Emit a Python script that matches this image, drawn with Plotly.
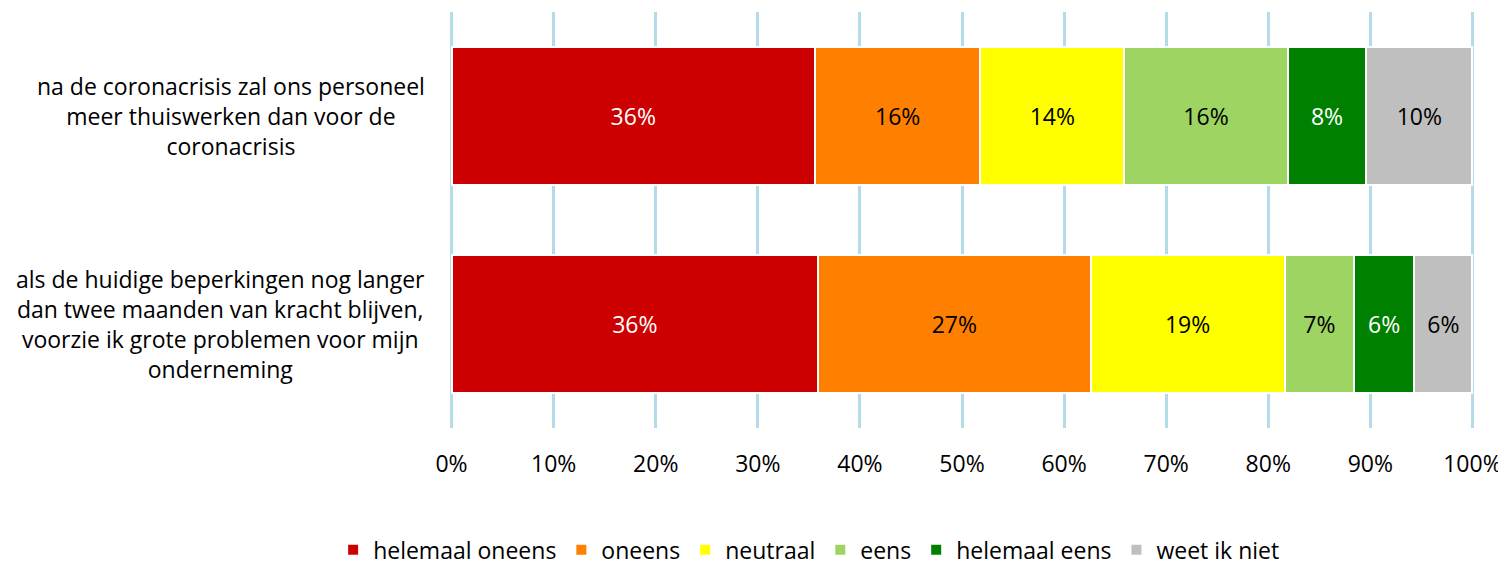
import plotly.graph_objects as go

categories = [
    "na de coronacrisis zal ons personeel<br>meer thuiswerken dan voor de<br>coronacrisis",
    "als de huidige beperkingen nog langer<br>dan twee maanden van kracht blijven,<br>voorzie ik grote problemen voor mijn<br>onderneming",
]
series_names = ["helemaal oneens", "oneens", "neutraal", "eens", "helemaal eens", "weet ik niet"]
values = {
    "helemaal oneens": [35.6, 35.9],
    "oneens": [16.2, 26.7],
    "neutraal": [14.1, 19.0],
    "eens": [16.0, 6.8],
    "helemaal eens": [7.7, 5.9],
    "weet ik niet": [10.4, 5.7],
}
colors = ["#CC0000", "#FF8000", "#FFFF00", "#9DD462", "#008000", "#BFBFBF"]
text_colors = ["white", "black", "black", "black", "white", "black"]
tick_vals = [0, 10, 20, 30, 40, 50, 60, 70, 80, 90, 100]
tick_text = [f"{v}%" for v in tick_vals]

FONT = "Open Sans"
FS = 23
fig = go.Figure()
for name, col, tc in zip(series_names, colors, text_colors):
    fig.add_trace(go.Bar(
        y=categories, x=values[name], name=name, orientation="h",
        marker=dict(color=col, line=dict(color="white", width=2)),
        width=0.665,
        texttemplate="%{x:.0f}%", textposition="inside", insidetextanchor="middle",
        textfont=dict(color=tc, size=FS, family=FONT),
        textangle=0,
    ))

for cat in categories:
    fig.add_annotation(x=0, xref="paper", xanchor="right", xshift=-22,
                       y=cat, yref="y", text=cat, showarrow=False, align="center",
                       font=dict(size=FS, color="black", family=FONT))

fig.update_layout(
    barmode="stack", width=1506, height=563,
    margin=dict(l=441, r=39, t=4, b=143, autoexpand=False),
    plot_bgcolor="white", paper_bgcolor="white",
    font=dict(family=FONT, size=FS, color="black"),
    legend=dict(orientation="h", x=0.351, xanchor="center", y=-0.293, yanchor="middle",
                font=dict(size=FS, family=FONT), traceorder="normal", itemwidth=30),
    xaxis=dict(range=[-0.25, 100.25], tickvals=tick_vals, ticktext=tick_text,
               showgrid=True, gridcolor="#B4DCE8", gridwidth=3, zeroline=False,
               showline=False, ticks="", ticklabelstandoff=20,
               tickfont=dict(size=FS, family=FONT), automargin=False),
    yaxis=dict(autorange="reversed", showticklabels=False, showgrid=False, zeroline=False,
               automargin=False),
)
fig.write_html("out.html")
